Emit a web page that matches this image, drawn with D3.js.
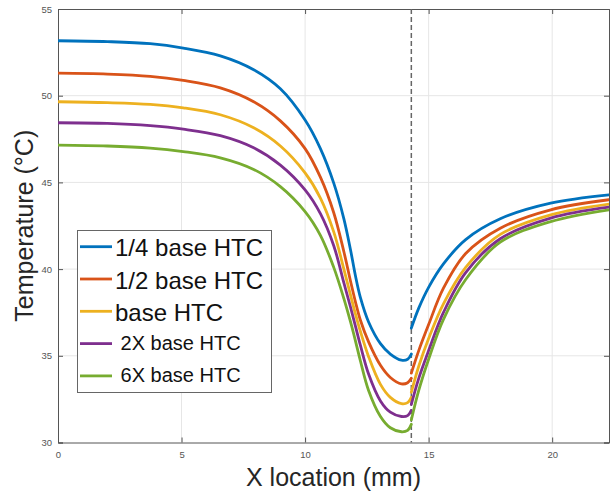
<!DOCTYPE html>
<html>
<head>
<meta charset="utf-8">
<script src="https://cdn.jsdelivr.net/npm/d3@7"></script>
<style>
  body { margin: 0; background: #fff; }
  svg { display: block; font-family: "Liberation Sans", Arial, sans-serif; }
</style>
</head>
<body>
<svg id="chart" width="610" height="494"></svg>
<script>
// series names (legend order)
const seriesNames = ["1/4 base HTC", "1/2 base HTC", "base HTC", " 2X base HTC", " 6X base HTC"];
const seriesColors = ["#0072BD", "#D95319", "#EDB120", "#7E2F8E", "#77AC30"];

// left part of the curves (before the dashed line)
const xLeft = [0, 2, 3.73, 5.07, 6.57, 7.92, 9, 10, 10.62, 11.16, 11.57, 11.84, 12.04, 12.24, 12.57, 13.05, 13.45, 13.9, 14.15, 14.3];
const blueLeft   = [53.17, 53.12, 53.0, 52.75, 52.3, 51.5, 50.4, 48.6, 46.95, 44.96, 42.9, 41.1, 39.6, 38.35, 36.95, 35.7, 35.1, 34.75, 34.8, 35.1];
const redLeft    = [51.3, 51.25, 51.12, 50.88, 50.45, 49.65, 48.55, 46.95, 45.3, 43.25, 41.0, 39.3, 38.1, 37.05, 35.8, 34.45, 33.75, 33.38, 33.45, 33.7];
const yellowLeft = [49.65, 49.6, 49.5, 49.3, 48.9, 48.15, 47.1, 45.55, 44.1, 42.15, 40.0, 38.5, 37.4, 36.4, 34.95, 33.35, 32.6, 32.24, 32.3, 32.6];
const purpleLeft = [48.44, 48.4, 48.27, 48.07, 47.7, 47.0, 46.0, 44.57, 43.2, 41.35, 39.2, 37.8, 36.7, 35.6, 33.95, 32.4, 31.75, 31.5, 31.55, 31.85];
const greenLeft  = [47.15, 47.1, 46.98, 46.78, 46.42, 45.75, 44.76, 43.32, 41.95, 40.1, 38.3, 36.95, 35.85, 34.7, 33.0, 31.5, 30.85, 30.62, 30.7, 31.05];

// right part of the curves (after the dashed line)
const xRight = [14.3, 14.6, 15, 15.6, 16.5, 17.9, 19.94, 22.3];
const blueRight   = [36.6, 37.75, 38.95, 40.3, 41.7, 42.9, 43.8, 44.28];
const redRight    = [34.0, 35.3, 36.8, 38.9, 40.9, 42.36, 43.42, 44.0];
const yellowRight = [32.9, 34.4, 36.0, 38.0, 40.1, 42.0, 43.13, 43.75];
const purpleRight = [32.2, 33.7, 35.3, 37.5, 39.8, 41.75, 42.94, 43.57];
const greenRight  = [31.3, 33.0, 34.8, 37.1, 39.4, 41.55, 42.74, 43.42];

const xTicks = [0, 5, 10, 15, 20];
const yTicks = [30, 35, 40, 45, 50, 55];
const dashX = 14.3;

const leftSeries = [blueLeft, redLeft, yellowLeft, purpleLeft, greenLeft];
const rightSeries = [blueRight, redRight, yellowRight, purpleRight, greenRight];

const svg = d3.select("svg#chart");

// plot area
const area = { left: 58, right: 609, top: 9, bottom: 442.5 };

const scX = d3.scaleLinear().domain([0, 22.3]).range([area.left, area.right]);
const scY = d3.scaleLinear().domain([30, 55]).range([area.bottom, area.top]);

// grid
svg.append("g").selectAll("line.gx")
    .data(xTicks.slice(1))
    .enter().append("line")
    .attr("x1", d => scX(d)).attr("x2", d => scX(d))
    .attr("y1", area.top).attr("y2", area.bottom)
    .style("stroke", "#e6e6e6").style("stroke-width", 1);

svg.append("g").selectAll("line.gy")
    .data(yTicks.slice(1, -1))
    .enter().append("line")
    .attr("x1", area.left).attr("x2", area.right)
    .attr("y1", d => scY(d)).attr("y2", d => scY(d))
    .style("stroke", "#e6e6e6").style("stroke-width", 1);

// axes (ticks pointing inside)
const axisBottom = d3.axisBottom(scX).tickValues(xTicks).tickSize(-5).tickPadding(9);
const axisLeft = d3.axisLeft(scY).tickValues(yTicks).tickSize(-5).tickPadding(6);
const axisTop = d3.axisTop(scX).tickValues(xTicks).tickSize(-5).tickFormat("");
const axisRight = d3.axisRight(scY).tickValues(yTicks).tickSize(-5).tickFormat("");

function styleAxis(g) {
    g.select(".domain").style("stroke", "#555");
    g.selectAll(".tick line").style("stroke", "#555");
    g.selectAll(".tick text").style("fill", "#555").style("font-size", "9.5px");
}

svg.append("g").attr("transform", `translate(0, ${area.bottom})`).call(axisBottom).call(styleAxis);
svg.append("g").attr("transform", `translate(${area.left}, 0)`).call(axisLeft).call(styleAxis);
svg.append("g").attr("transform", `translate(0, ${area.top})`).call(axisTop).call(styleAxis);
svg.append("g").attr("transform", `translate(${area.right}, 0)`).call(axisRight).call(styleAxis);

// dashed vertical line
svg.append("line")
    .attr("x1", scX(dashX)).attr("x2", scX(dashX))
    .attr("y1", area.top).attr("y2", area.bottom)
    .style("stroke", "#666")
    .style("stroke-width", 1.5)
    .style("stroke-dasharray", "5,3");

// curves
svg.append("clipPath").attr("id", "clip")
    .append("rect")
    .attr("x", area.left).attr("y", area.top)
    .attr("width", area.right - area.left).attr("height", area.bottom - area.top);

const line = d3.line()
    .x(d => scX(d[0]))
    .y(d => scY(d[1]))
    .curve(d3.curveCatmullRom.alpha(0.5));

const curves = svg.append("g").attr("clip-path", "url(#clip)");
seriesNames.forEach((name, i) => {
    const left = xLeft.map((x, j) => [x, leftSeries[i][j]]);
    const right = xRight.map((x, j) => [x, rightSeries[i][j]]);
    [left, right].forEach(pts => {
        curves.append("path")
            .datum(pts)
            .attr("d", line)
            .style("fill", "none")
            .style("stroke", seriesColors[i])
            .style("stroke-width", 2.8)
            .style("stroke-linecap", "round");
    });
});

// axis titles
svg.append("text")
    .attr("x", (area.left + area.right) / 2)
    .attr("y", 486)
    .attr("text-anchor", "middle")
    .style("font-size", "25px")
    .style("fill", "#262626")
    .text("X location (mm)");

svg.append("text")
    .attr("transform", `translate(33, ${(area.top + area.bottom) / 2}) rotate(-90)`)
    .attr("text-anchor", "middle")
    .style("font-size", "25px")
    .style("fill", "#262626")
    .text("Temperature (°C)");

// legend
const legend = svg.append("g");
legend.append("rect")
    .attr("x", 77.5).attr("y", 230.5)
    .attr("width", 194).attr("height", 162)
    .style("fill", "#fff")
    .style("stroke", "#666")
    .style("stroke-width", 1);

seriesNames.forEach((name, i) => {
    const cy = 246.7 + i * 32.3;
    const big = i < 3;
    legend.append("line")
        .attr("x1", 80).attr("x2", 112)
        .attr("y1", cy).attr("y2", cy)
        .style("stroke", seriesColors[i])
        .style("stroke-width", 2.8);
    legend.append("text")
        .attr("x", 115)
        .attr("y", cy + (big ? 9.5 : 6.5))
        .attr("xml:space", "preserve")
        .style("white-space", "pre")
        .style("font-size", big ? "24px" : "20px")
        .style("fill", "#111")
        .text(name);
});
</script>
</body>
</html>
